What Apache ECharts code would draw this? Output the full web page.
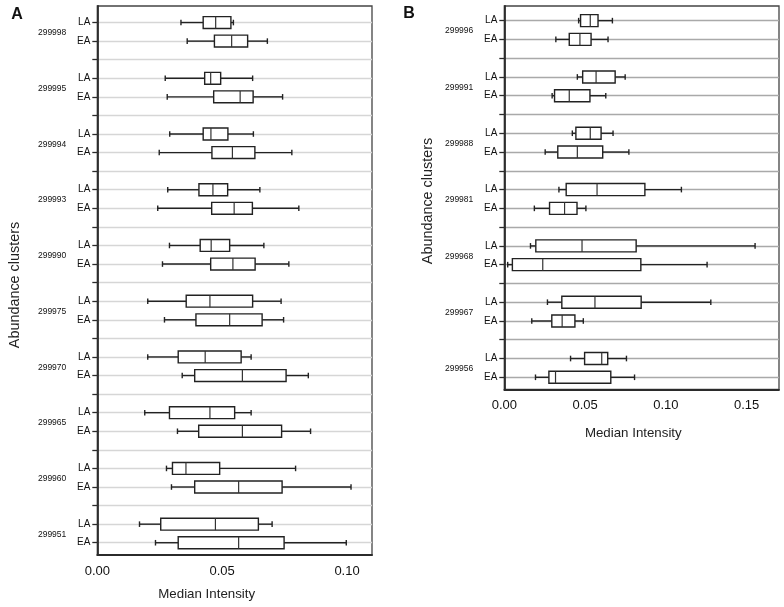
<!DOCTYPE html>
<html>
<head>
<meta charset="utf-8">
<script src="https://cdn.jsdelivr.net/npm/echarts@6/dist/echarts.min.js"></script>
<style>html,body{margin:0;padding:0;background:#fff;}#c{width:784px;height:607px;}</style>
</head>
<body>
<div id="c"></div>
<script>
// ---- data ----
const groupLabels = ['LA', 'EA'];
const clustersA = ['299998','299995','299994','299993','299990','299975','299970','299965','299960','299951'];
// [whisker min, Q1, median, Q3, whisker max]
const laA = [
  [0.0335,0.0424,0.0474,0.0535,0.0545],
  [0.0272,0.0430,0.0454,0.0494,0.0622],
  [0.0290,0.0424,0.0455,0.0523,0.0625],
  [0.0282,0.0407,0.0463,0.0522,0.0651],
  [0.0289,0.0412,0.0456,0.0530,0.0667],
  [0.0202,0.0356,0.0451,0.0622,0.0736],
  [0.0202,0.0324,0.0432,0.0576,0.0616],
  [0.0190,0.0289,0.0451,0.0550,0.0616],
  [0.0277,0.0301,0.0355,0.0490,0.0794],
  [0.0169,0.0254,0.0473,0.0645,0.0700]
];
const eaA = [
  [0.0360,0.0469,0.0538,0.0602,0.0681],
  [0.0280,0.0466,0.0572,0.0624,0.0742],
  [0.0248,0.0459,0.0541,0.0631,0.0779],
  [0.0242,0.0458,0.0548,0.0621,0.0807],
  [0.0261,0.0454,0.0543,0.0632,0.0767],
  [0.0269,0.0395,0.0530,0.0660,0.0746],
  [0.0340,0.0390,0.0581,0.0756,0.0845],
  [0.0321,0.0406,0.0581,0.0738,0.0854],
  [0.0297,0.0390,0.0566,0.0740,0.1016],
  [0.0233,0.0324,0.0566,0.0748,0.0997]
];
const clustersB = ['299996','299991','299988','299981','299968','299967','299956'];
const laB = [
  [0.0460,0.0472,0.0532,0.0580,0.0669],
  [0.0452,0.0485,0.0568,0.0686,0.0748],
  [0.0421,0.0443,0.0532,0.0599,0.0673],
  [0.0338,0.0383,0.0574,0.0870,0.1096],
  [0.0162,0.0195,0.0481,0.0816,0.1552],
  [0.0267,0.0356,0.0561,0.0847,0.1278],
  [0.0410,0.0497,0.0603,0.0640,0.0756]
];
const eaB = [
  [0.0319,0.0402,0.0468,0.0537,0.0642],
  [0.0296,0.0311,0.0402,0.0530,0.0628],
  [0.0253,0.0331,0.0452,0.0609,0.0771],
  [0.0186,0.0280,0.0373,0.0450,0.0505],
  [0.0021,0.0050,0.0238,0.0845,0.1255],
  [0.0170,0.0294,0.0358,0.0437,0.0489],
  [0.0193,0.0276,0.0317,0.0659,0.0806]
];
const xTicksA = [0, 0.05, 0.10];
const xTicksB = [0, 0.05, 0.10, 0.15];

// ---- build ----
const FONT = 'Liberation Sans, Arial, Helvetica, sans-serif';
function rowsOf(n) { // LA at 3i+1, EA at 3i+2
  const r = []; for (let i = 0; i < n; i++) { r.push(3*i+1, 3*i+2); } return r;
}
function ticksOf(n) {
  const r = []; for (let i = 0; i < n; i++) { r.push(3*i+1, 3*i+2); if (i < n-1) r.push(3*i+3); } return r;
}
function midsOf(n) { const r = []; for (let i = 0; i < n; i++) r.push(3*i+1.55); return r; }
function boxData(la, ea) {
  const d = [];
  for (let i = 0; i < la.length; i++) {
    d.push([3*i+1].concat(la[i]));
    d.push([3*i+2].concat(ea[i]));
  }
  return d;
}
function renderBox(params, api) {
  const y = api.value(0);
  const p = [1,2,3,4,5].map(d => api.coord([api.value(d), y]));
  const slot = Math.abs(api.size([0, 1])[1]);
  const bh = slot * 0.64, ch = slot * 0.3;
  const cy = p[0][1];
  const st = {stroke: '#222', lineWidth: 1.4, fill: null};
  return {type: 'group', children: [
    {type: 'line', shape: {x1: p[0][0], y1: cy, x2: p[1][0], y2: cy}, style: st},
    {type: 'line', shape: {x1: p[3][0], y1: cy, x2: p[4][0], y2: cy}, style: st},
    {type: 'line', shape: {x1: p[0][0], y1: cy-ch/2, x2: p[0][0], y2: cy+ch/2}, style: st},
    {type: 'line', shape: {x1: p[4][0], y1: cy-ch/2, x2: p[4][0], y2: cy+ch/2}, style: st},
    {type: 'rect', shape: {x: p[1][0], y: cy-bh/2, width: p[3][0]-p[1][0], height: bh}, style: {fill: '#fff', stroke: '#222', lineWidth: 1.4}},
    {type: 'line', shape: {x1: p[2][0], y1: cy-bh/2, x2: p[2][0], y2: cy+bh/2}, style: {stroke: '#333', lineWidth: 1.2}}
  ]};
}
function yAxesFor(gi, clusters, ymin, ymax, gridColor) {
  const n = clusters.length;
  return [
    {gridIndex: gi, type: 'value', inverse: true, min: ymin, max: ymax, position: 'left',
     axisLine: {show: true, lineStyle: {color: '#2b2b2b', width: 1.8}},
     axisTick: {show: true, length: 5, customValues: ticksOf(n), lineStyle: {color: '#2b2b2b', width: 1.3}},
     splitLine: {show: true, lineStyle: {color: gridColor, width: 1.4}},
     axisLabel: {customValues: rowsOf(n), margin: 7, fontSize: 10, color: '#111', fontFamily: FONT,
       formatter: v => groupLabels[(Math.round(v) - 1) % 3]}},
    {gridIndex: gi, type: 'value', inverse: true, min: ymin, max: ymax, position: 'left', offset: 0,
     axisLine: {show: false}, axisTick: {show: false}, splitLine: {show: false},
     axisLabel: {customValues: midsOf(n), margin: 31, fontSize: 8.5, color: '#111', fontFamily: FONT,
       formatter: v => clusters[Math.round((v - 1.55) / 3)]}}
  ];
}
function xAxisFor(gi, max, ticks) {
  return {gridIndex: gi, type: 'value', min: 0, max: max, interval: 0.05,
    axisLine: {show: true, onZero: false, lineStyle: {color: '#2b2b2b', width: 1.8}},
    axisTick: {show: false}, splitLine: {show: false},
    axisLabel: {customValues: ticks, margin: 10, fontSize: 13, color: '#111', fontFamily: FONT,
      formatter: v => v.toFixed(2)}};
}

const option = {
  animation: false,
  backgroundColor: '#fff',
  grid: [
    {left: 97.3, top: 6, width: 274.7, height: 549, show: true, borderColor: '#444', borderWidth: 1.3, containLabel: false},
    {left: 504.3, top: 6, width: 274.7, height: 383.3, show: true, borderColor: '#444', borderWidth: 1.3, containLabel: false}
  ],
  xAxis: [xAxisFor(0, 0.11, xTicksA), xAxisFor(1, 0.17, xTicksB)],
  yAxis: yAxesFor(0, clustersA, 0.11, 29.66, '#d6d6d6').concat(yAxesFor(1, clustersB, 0.22, 20.64, '#a9a9a9')),
  series: [
    {type: 'custom', xAxisIndex: 0, yAxisIndex: 0, renderItem: renderBox, data: boxData(laA, eaA),
     encode: {x: [1,2,3,4,5], y: 0}},
    {type: 'custom', xAxisIndex: 1, yAxisIndex: 2, renderItem: renderBox, data: boxData(laB, eaB),
     encode: {x: [1,2,3,4,5], y: 0}}
  ],
  graphic: [
    {type: 'text', x: 17, y: 15, style: {text: 'A', font: 'bold 16px ' + FONT, fill: '#111', align: 'center', verticalAlign: 'middle'}},
    {type: 'text', x: 409, y: 14, style: {text: 'B', font: 'bold 16px ' + FONT, fill: '#111', align: 'center', verticalAlign: 'middle'}},
    {type: 'text', x: 206.7, y: 594, style: {text: 'Median Intensity', font: '13.3px ' + FONT, fill: '#222', align: 'center', verticalAlign: 'middle'}},
    {type: 'text', x: 633.3, y: 433, style: {text: 'Median Intensity', font: '13.3px ' + FONT, fill: '#222', align: 'center', verticalAlign: 'middle'}},
    {type: 'text', x: 15, y: 285, rotation: Math.PI / 2, style: {text: 'Abundance clusters', font: '14.4px ' + FONT, fill: '#222', align: 'center', verticalAlign: 'middle'}},
    {type: 'text', x: 428, y: 201, rotation: Math.PI / 2, style: {text: 'Abundance clusters', font: '14.4px ' + FONT, fill: '#222', align: 'center', verticalAlign: 'middle'}}
  ]
};
const chart = echarts.init(document.getElementById('c'), null, {renderer: 'canvas'});
chart.setOption(option);
</script>
</body>
</html>
